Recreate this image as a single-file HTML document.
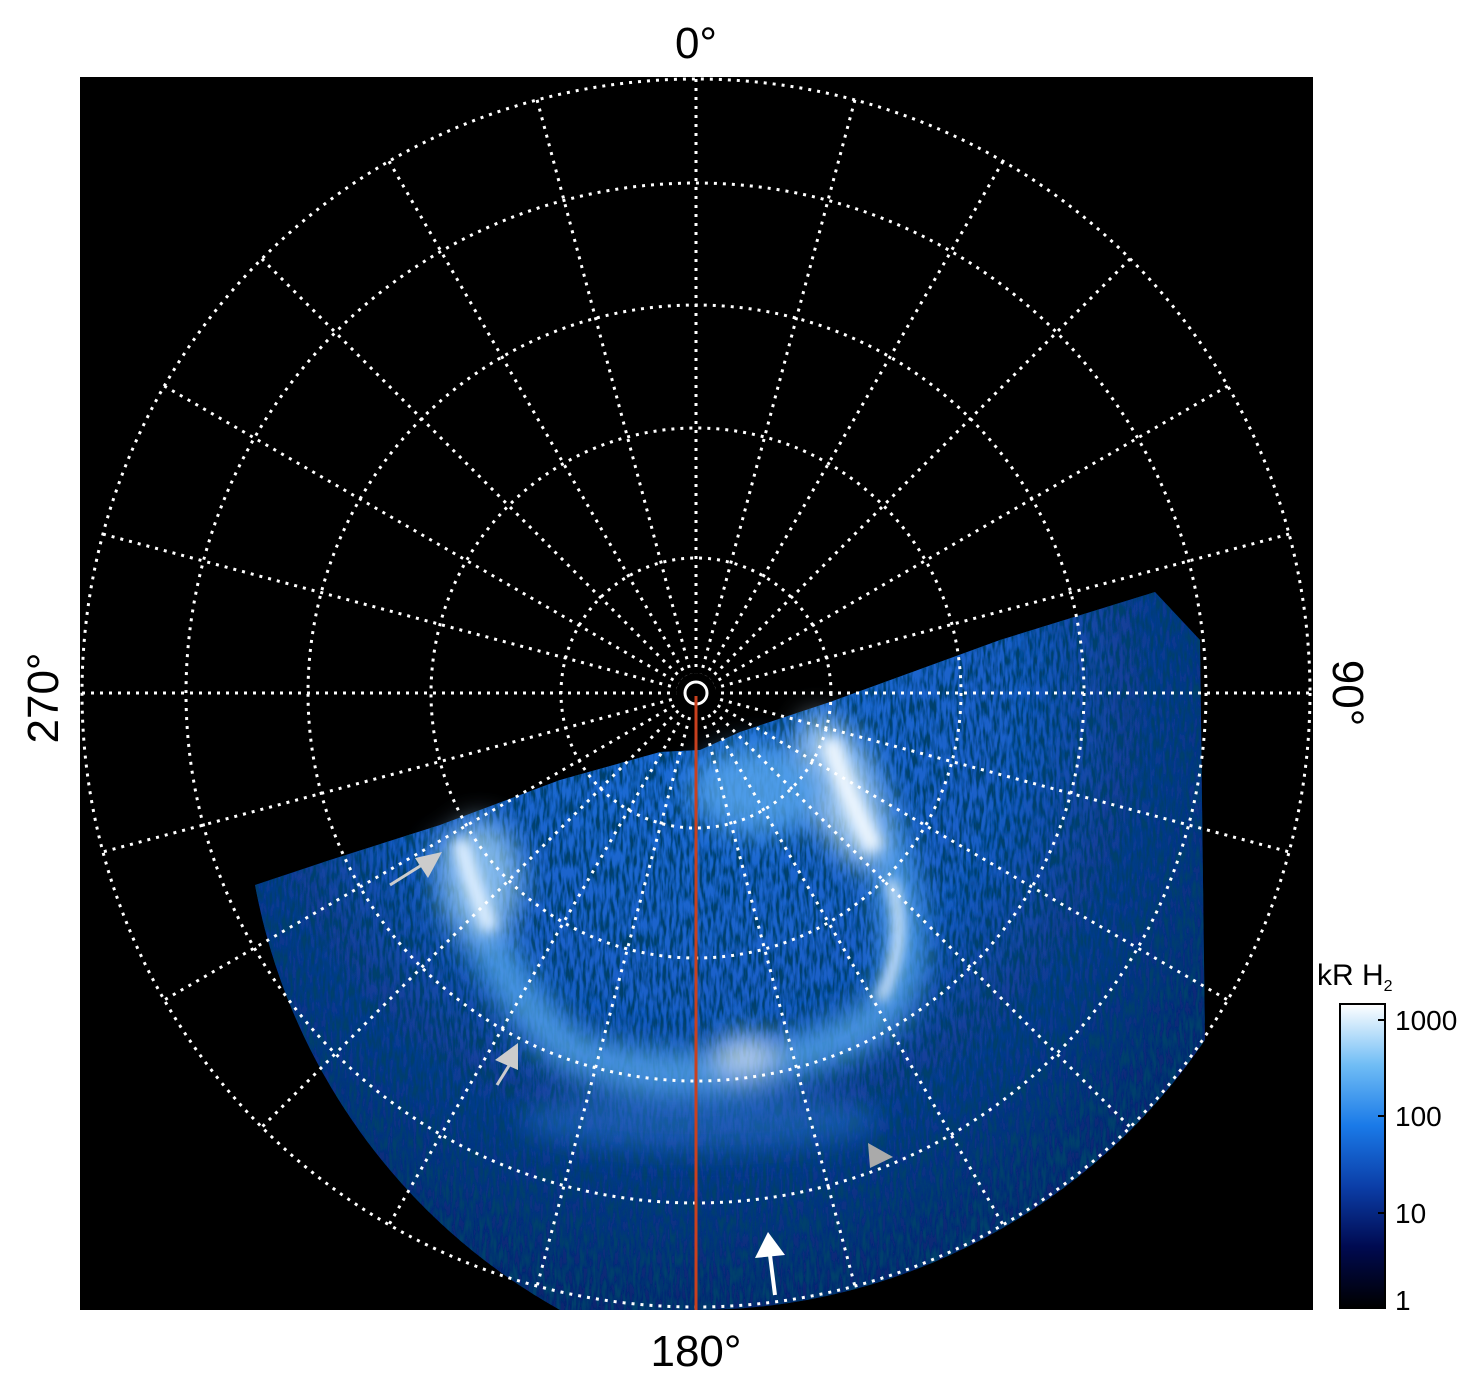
<!DOCTYPE html>
<html><head><meta charset="utf-8"><style>
html,body{margin:0;padding:0;background:#fff;width:1481px;height:1386px;overflow:hidden;}
svg{display:block;font-family:"Liberation Sans",sans-serif;}
</style></head><body>
<svg width="1481" height="1386" viewBox="0 0 1481 1386" xmlns="http://www.w3.org/2000/svg">
<defs>
<clipPath id="sq"><rect x="80" y="77" width="1233" height="1233"/></clipPath>
<linearGradient id="cb" x1="0" y1="1" x2="0" y2="0">
<stop offset="0" stop-color="#000"/>
<stop offset="0.2" stop-color="#000a50"/>
<stop offset="0.4" stop-color="#0b3ea8"/>
<stop offset="0.6" stop-color="#1a7ae8"/>
<stop offset="0.8" stop-color="#70bdf5"/>
<stop offset="1" stop-color="#ffffff"/>
</linearGradient>
<filter id="noise" x="0" y="0" width="100%" height="100%">
<feTurbulence type="fractalNoise" baseFrequency="0.3 0.06" numOctaves="2" seed="3" result="t"/>
<feColorMatrix in="t" type="matrix" values="0 0 0 0 0  0 0 0 0 0.05  0 0 0 0 0.15  0 0 0 -3 1.9" result="d"/>
<feComposite in="d" in2="SourceGraphic" operator="in" result="dd"/>
<feMerge><feMergeNode in="SourceGraphic"/><feMergeNode in="dd"/></feMerge>
</filter>
<filter id="blur"><feGaussianBlur stdDeviation="14"/></filter>
<filter id="blur2"><feGaussianBlur stdDeviation="6"/></filter>
<radialGradient id="fade" cx="696" cy="693" r="620" gradientUnits="userSpaceOnUse">
<stop offset="0" stop-color="#1f6fd8"/>
<stop offset="0.5" stop-color="#1a60c8"/>
<stop offset="0.7" stop-color="#123f98"/>
<stop offset="1" stop-color="#0a2670"/>
</radialGradient>
</defs>
<rect x="80" y="77" width="1233" height="1233" fill="#000"/>
<g clip-path="url(#sq)">
<path d="M255,885 L330,860 L440,825 L560,780 L660,752 L700,750 L740,732 L830,702 L1000,640 L1155,592 L1200,640 L1205,1040 A614,614 0 0 1 696,1310 L560,1310 A614,614 0 0 1 255,885 Z" fill="url(#fade)" filter="url(#noise)"/>
<g filter="url(#blur)" opacity="0.8">
<path d="M450,840 C470,930 520,1010 570,1050 C640,1080 720,1075 780,1060 C850,1040 900,1020 905,960 C905,880 870,800 840,740" fill="none" stroke="#5aaaf0" stroke-width="40"/>
<ellipse cx="480" cy="880" rx="40" ry="60" fill="#9fd0f8"/>
<ellipse cx="840" cy="790" rx="30" ry="80" fill="#c8e6fc" transform="rotate(-20 840 790)"/>
<ellipse cx="760" cy="790" rx="70" ry="45" fill="#5aa8ee"/>
<ellipse cx="745" cy="1055" rx="30" ry="20" fill="#dff0ff"/>
<ellipse cx="700" cy="1120" rx="180" ry="30" fill="#2e78d6" opacity="0.6"/>
</g>
<g filter="url(#blur2)">
<path d="M880,1000 C900,960 905,920 890,880" stroke="#e8f4ff" stroke-width="10" fill="none"/>
<path d="M830,740 C845,790 860,820 875,850" stroke="#f0f8ff" stroke-width="18" fill="none"/>
<path d="M460,840 C470,880 480,900 490,930" stroke="#e0f0ff" stroke-width="16" fill="none"/>
</g>
<g fill="none" stroke="#fff" stroke-width="3" stroke-dasharray="3 6">
<circle cx="696" cy="693" r="614"/>
<circle cx="696" cy="693" r="510"/>
<circle cx="696" cy="693" r="388"/>
<circle cx="696" cy="693" r="265"/>
<circle cx="696" cy="693" r="135"/>
</g>
<g stroke="#fff" stroke-width="3" stroke-dasharray="3 6">
<line x1="696" y1="79" x2="696" y2="1307"/>
<line x1="82" y1="693" x2="1310" y2="693"/>
<g transform="rotate(15 696 693)"><line x1="696" y1="79" x2="696" y2="1307"/><line x1="82" y1="693" x2="1310" y2="693"/></g>
<g transform="rotate(30 696 693)"><line x1="696" y1="79" x2="696" y2="1307"/><line x1="82" y1="693" x2="1310" y2="693"/></g>
<g transform="rotate(45 696 693)"><line x1="696" y1="79" x2="696" y2="1307"/><line x1="82" y1="693" x2="1310" y2="693"/></g>
<g transform="rotate(60 696 693)"><line x1="696" y1="79" x2="696" y2="1307"/><line x1="82" y1="693" x2="1310" y2="693"/></g>
<g transform="rotate(75 696 693)"><line x1="696" y1="79" x2="696" y2="1307"/><line x1="82" y1="693" x2="1310" y2="693"/></g>
</g>
<circle cx="696" cy="693" r="20" fill="#000"/>
<circle cx="696" cy="693" r="11" fill="none" stroke="#fff" stroke-width="3"/>
<line x1="696" y1="696" x2="696" y2="1310" stroke="#c8401e" stroke-width="3"/>
<g fill="#ccc" stroke="#ccc" stroke-width="3">
<line x1="390" y1="885" x2="425" y2="863"/><polygon points="442,852 415,858 428,878" stroke="none"/>
<line x1="497" y1="1085" x2="510" y2="1064"/><polygon points="518,1043 495,1060 518,1070" stroke="none"/>
<polygon points="868,1143 893,1157 870,1168" stroke="none" fill="#aaa"/>
</g>
<g fill="#fff" stroke="#fff" stroke-width="4">
<line x1="775" y1="1295" x2="770" y2="1255"/><polygon points="768,1232 755,1258 785,1255" stroke="none"/>
</g>
</g>
<text x="696" y="58" font-size="44" text-anchor="middle">0°</text>
<text x="696" y="1366" font-size="44" text-anchor="middle">180°</text>
<text transform="translate(58,698) rotate(-90)" font-size="44" text-anchor="middle">270°</text>
<text transform="translate(1333,693) rotate(90)" font-size="44" text-anchor="middle">90°</text>
<rect x="1340" y="1004" width="45" height="304" fill="url(#cb)" stroke="#000" stroke-width="2"/>
<text x="1317" y="985" font-size="30">kR H<tspan font-size="16" dy="6">2</tspan></text>
<g font-size="28">
<text x="1395" y="1030">1000</text>
<text x="1395" y="1126">100</text>
<text x="1395" y="1223">10</text>
<text x="1395" y="1310">1</text>
</g>
<g stroke="#000" stroke-width="2">
<line x1="1378" y1="1020" x2="1385" y2="1020"/>
<line x1="1378" y1="1116" x2="1385" y2="1116"/>
<line x1="1378" y1="1213" x2="1385" y2="1213"/>
</g>
</svg>
</body></html>
